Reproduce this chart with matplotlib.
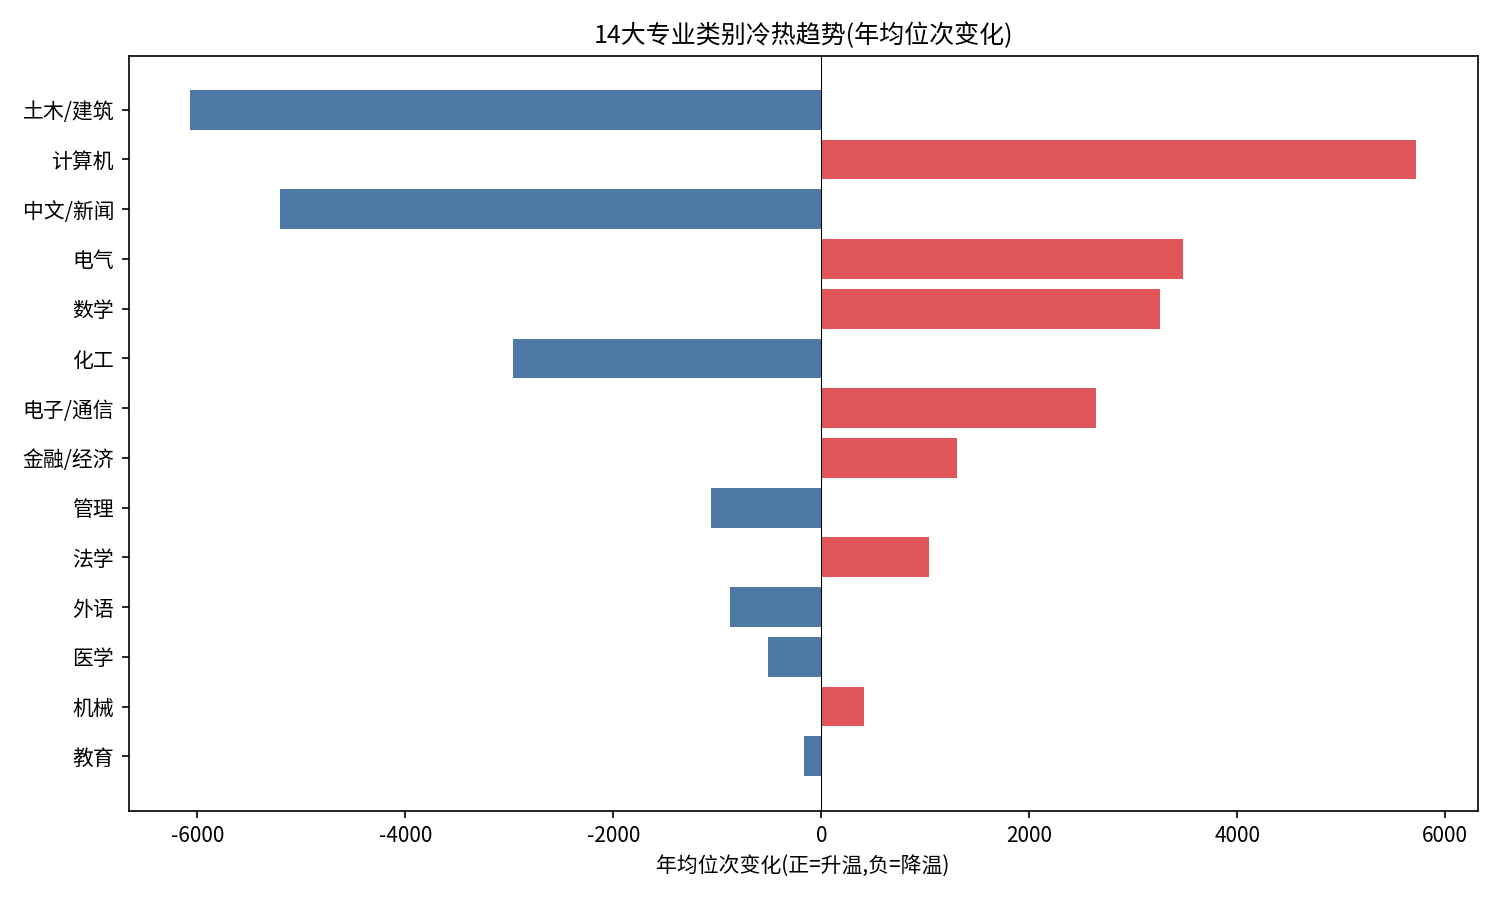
import matplotlib
matplotlib.use("Agg")
import matplotlib.pyplot as plt

plt.rcParams['font.family'] = ['Noto Sans CJK SC', 'DejaVu Sans']
plt.rcParams['axes.unicode_minus'] = False

# 数据 (从上到下)
categories = ['土木/建筑', '计算机', '中文/新闻', '电气', '数学', '化工', '电子/通信',
              '金融/经济', '管理', '法学', '外语', '医学', '机械', '教育']
changes = [-6070, 5720, -5200, 3480, 3260, -2960, 2645,
           1300, -1060, 1035, -875, -510, 415, -165]

BLUE = '#4e79a7'
RED = '#e15759'

fig, ax = plt.subplots(figsize=(10, 6), dpi=150)
colors = [RED if v > 0 else BLUE for v in changes]
ax.barh(categories, changes, color=colors)
ax.invert_yaxis()
ax.axvline(0, color='black', linewidth=0.5)
ax.set_title('14大专业类别冷热趋势(年均位次变化)', fontsize=12)
ax.set_xlabel('年均位次变化(正=升温,负=降温)')
plt.tight_layout()
plt.savefig('out.png', dpi=150)
